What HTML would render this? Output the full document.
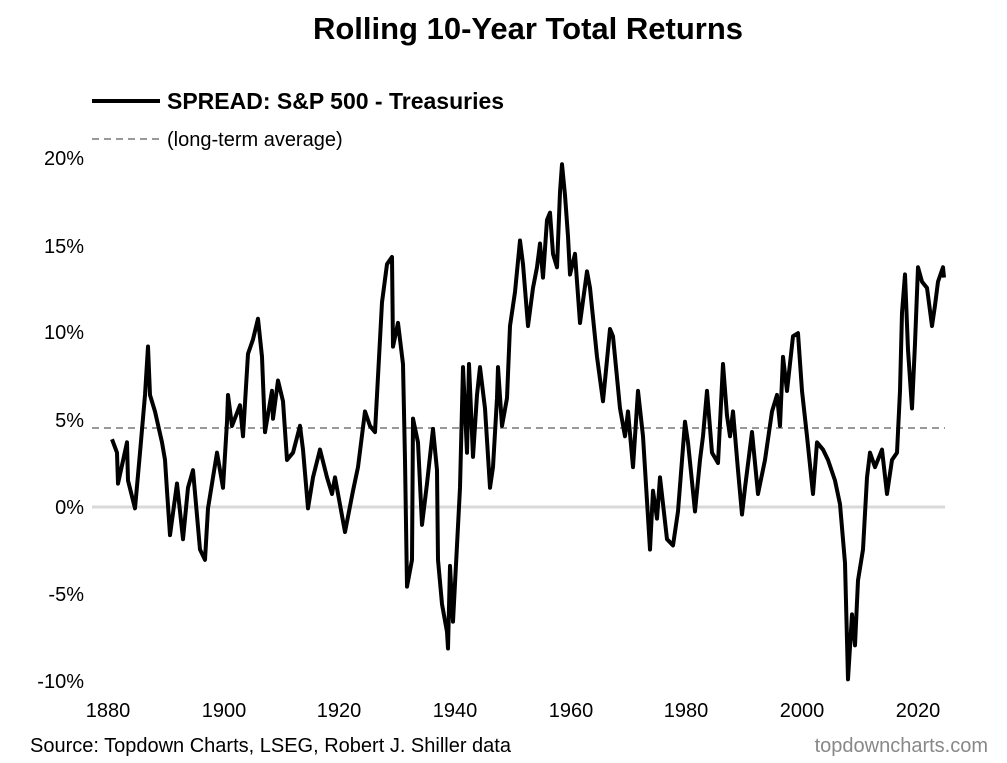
<!DOCTYPE html>
<html><head><meta charset="utf-8"><style>
html,body{margin:0;padding:0;background:#fff;}
svg{display:block;font-family:"Liberation Sans",Arial,sans-serif;}
</style></head><body>
<svg width="1007" height="763" viewBox="0 0 1007 763">
<rect width="1007" height="763" fill="#fff"/>
<text x="528" y="39" font-size="31" font-weight="bold" text-anchor="middle">Rolling 10-Year Total Returns</text>
<line x1="92" y1="101" x2="160" y2="101" stroke="#000" stroke-width="4"/>
<text x="167" y="109" font-size="23" font-weight="bold">SPREAD: S&amp;P 500 - Treasuries</text>
<line x1="92" y1="139" x2="160" y2="139" stroke="#999" stroke-width="2" stroke-dasharray="7,5"/>
<text x="167" y="146" font-size="20">(long-term average)</text>
<g font-size="20" text-anchor="end">
<text x="84" y="165">20%</text><text x="84" y="253">15%</text><text x="84" y="339">10%</text>
<text x="84" y="427">5%</text><text x="84" y="514">0%</text><text x="84" y="601">-5%</text><text x="84" y="688">-10%</text>
</g>
<g font-size="20" text-anchor="middle">
<text x="108" y="717">1880</text><text x="224" y="717">1900</text><text x="339" y="717">1920</text><text x="455" y="717">1940</text>
<text x="571" y="717">1960</text><text x="686" y="717">1980</text><text x="802" y="717">2000</text><text x="918" y="717">2020</text>
</g>
<text x="30" y="752" font-size="20">Source: Topdown Charts, LSEG, Robert J. Shiller data</text>
<text x="988" y="752" font-size="20" fill="#888" text-anchor="end">topdowncharts.com</text>
<line x1="92" y1="507" x2="945" y2="507" stroke="#d9d9d9" stroke-width="3"/>
<line x1="92" y1="428" x2="945" y2="428" stroke="#999" stroke-width="2" stroke-dasharray="7,5"/>
<g transform="matrix(1 0 0 1.03 0 -3.6)">
<polyline fill="none" stroke="#000" stroke-width="4" stroke-linejoin="round" points="
112,430 117,443 118,473 127,433 128,470 135,497 140,443 145,387 148,340 150,387 155,403 162,433 165,450 167,480 170,523 177,473 183,527 188,477 193,460 200,537 205,547 208,497 217,443 223,477 227,413 228,387 232,417 240,397 243,427 248,347 253,333 258,313 262,350 265,423 272,383 273,410 278,373 283,393 287,450 293,443 300,417 303,440 308,497 313,467 320,440 327,467 332,483 335,467 345,520 353,480 358,457 365,403 370,417 375,423 382,297 387,260 392,253 393,340 398,317 403,357 405,450 407,573 412,547 413,410 418,433 422,513 427,473 433,420 437,460 438,547 442,590 447,617 448,633 450,553 453,607 457,533 460,477 463,360 467,443 469,357 473,447 477,387 480,360 485,400 490,477 493,457 497,390 498,360 502,417 507,390 510,320 515,287 520,237 523,260 528,320 533,283 537,263 540,240 543,273 547,217 550,210 553,250 557,263 560,190 562,163 565,193 568,233 570,270 575,250 580,317 587,267 590,283 597,350 603,393 610,323 613,330 620,400 625,427 628,403 633,457 638,383 643,427 650,537 653,480 657,507 660,467 667,527 673,533 678,500 685,413 688,433 695,500 700,450 703,427 707,383 712,443 718,453 723,357 727,407 730,427 733,403 738,460 742,503 745,477 752,423 758,483 765,450 772,403 777,387 780,417 783,350 787,383 793,330 798,327 802,383 807,427 813,483 817,433 823,440 828,450 835,470 840,493 845,550 848,663 852,600 855,630 858,567 863,537 867,467 870,443 875,457 882,440 887,483 892,450 897,443 900,383 902,307 905,270 908,343 912,400 915,337 918,263 922,277 927,283 932,320 935,300 938,277 943,263 944,273"/>
</g>
</svg>
</body></html>
